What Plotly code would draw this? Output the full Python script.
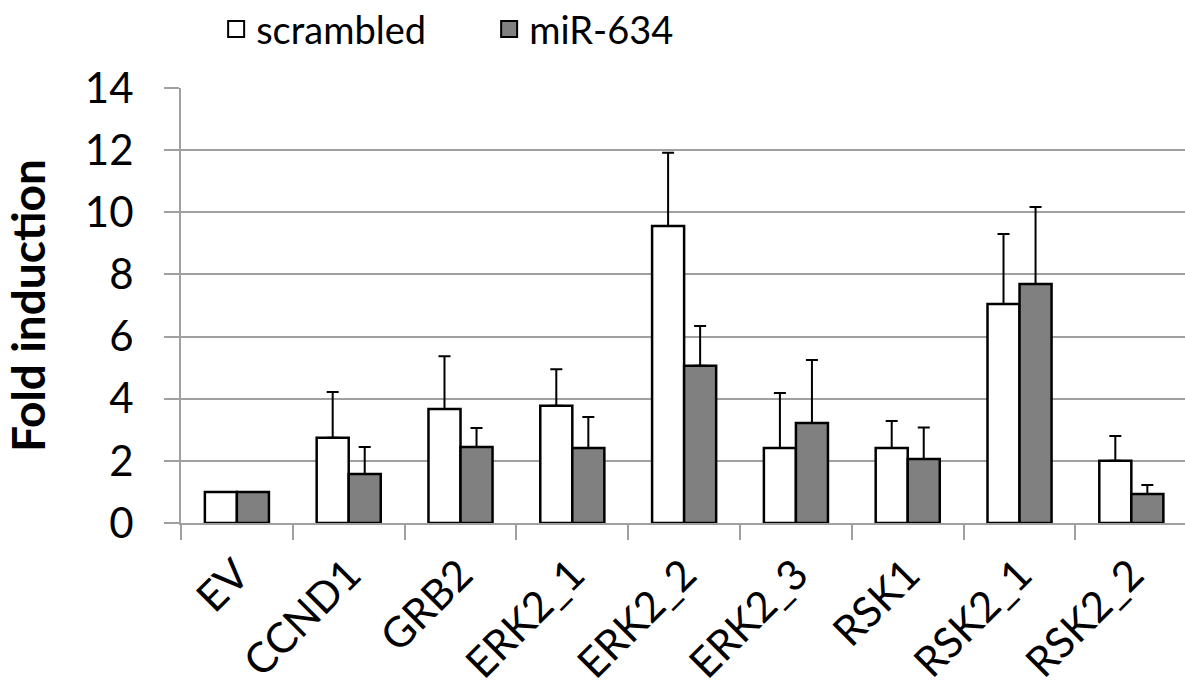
import plotly.graph_objects as go

categories = ["EV", "CCND1", "GRB2", "ERK2_1", "ERK2_2", "ERK2_3", "RSK1", "RSK2_1", "RSK2_2"]
scrambled = [1.0, 2.74, 3.67, 3.77, 9.56, 2.41, 2.41, 7.05, 2.0]
scrambled_err = [None, 1.48, 1.70, 1.18, 2.36, 1.77, 0.87, 2.25, 0.80]
mir634 = [1.0, 1.58, 2.45, 2.41, 5.06, 3.22, 2.06, 7.69, 0.93]
mir634_err = [None, 0.87, 0.61, 1.00, 1.28, 2.03, 1.01, 2.48, 0.29]
y_ticks = [0, 2, 4, 6, 8, 10, 12, 14]

FONT = "Lato"
GRID = "#a0a0a0"

def err(vals):
    return dict(type="data", symmetric=False,
                array=[v if v is not None else float("nan") for v in vals],
                arrayminus=[0 for _ in vals],
                color="black", thickness=2, width=6)

fig = go.Figure()
fig.add_trace(go.Bar(x=categories, y=scrambled, name="scrambled", showlegend=False,
                     marker=dict(color="white", line=dict(color="black", width=2.5)),
                     error_y=err(scrambled_err)))
fig.add_trace(go.Bar(x=categories, y=mir634, name="miR-634", showlegend=False,
                     marker=dict(color="#808080", line=dict(color="black", width=2.5)),
                     error_y=err(mir634_err)))
# legend entries
fig.add_trace(go.Scatter(x=[None], y=[None], mode="markers", name="scrambled",
                         marker=dict(symbol="square", size=22, color="white",
                                     line=dict(color="black", width=2))))
fig.add_trace(go.Scatter(x=[None], y=[None], mode="markers", name="miR-634",
                         marker=dict(symbol="square", size=22, color="#808080",
                                     line=dict(color="black", width=2))))

fig.update_layout(
    width=1185, height=690,
    margin=dict(l=181, r=0, t=88, b=167, autoexpand=False),
    paper_bgcolor="white", plot_bgcolor="white",
    font=dict(family=FONT, color="black"),
    barmode="group", bargap=0.427, bargroupgap=0,
    legend=dict(orientation="h", x=0.035, y=1.135, xanchor="left", yanchor="middle",
                font=dict(size=38, family=FONT), entrywidth=228, itemwidth=30,
                bgcolor="rgba(0,0,0,0)"),
    xaxis=dict(type="category", range=[-0.5, 8.48], tickson="boundaries",
               ticks="outside", ticklen=15, tickwidth=2, tickcolor=GRID,
               showline=True, linecolor=GRID, linewidth=2, ticklabelstandoff=8,
               tickangle=-45, tickfont=dict(size=42, family=FONT), showgrid=False),
    yaxis=dict(range=[0, 14], tickvals=y_ticks, ticks="outside", ticklen=15,
               tickwidth=2, tickcolor=GRID, showline=True, linecolor=GRID, linewidth=2,
               showgrid=True, gridcolor=GRID, gridwidth=2, zeroline=False,
               ticklabelstandoff=22,
               tickfont=dict(size=42, family=FONT),
               title=dict(text="<b>Fold induction</b>", font=dict(size=46, family=FONT), standoff=40)),
)

fig.write_html("out.html")
